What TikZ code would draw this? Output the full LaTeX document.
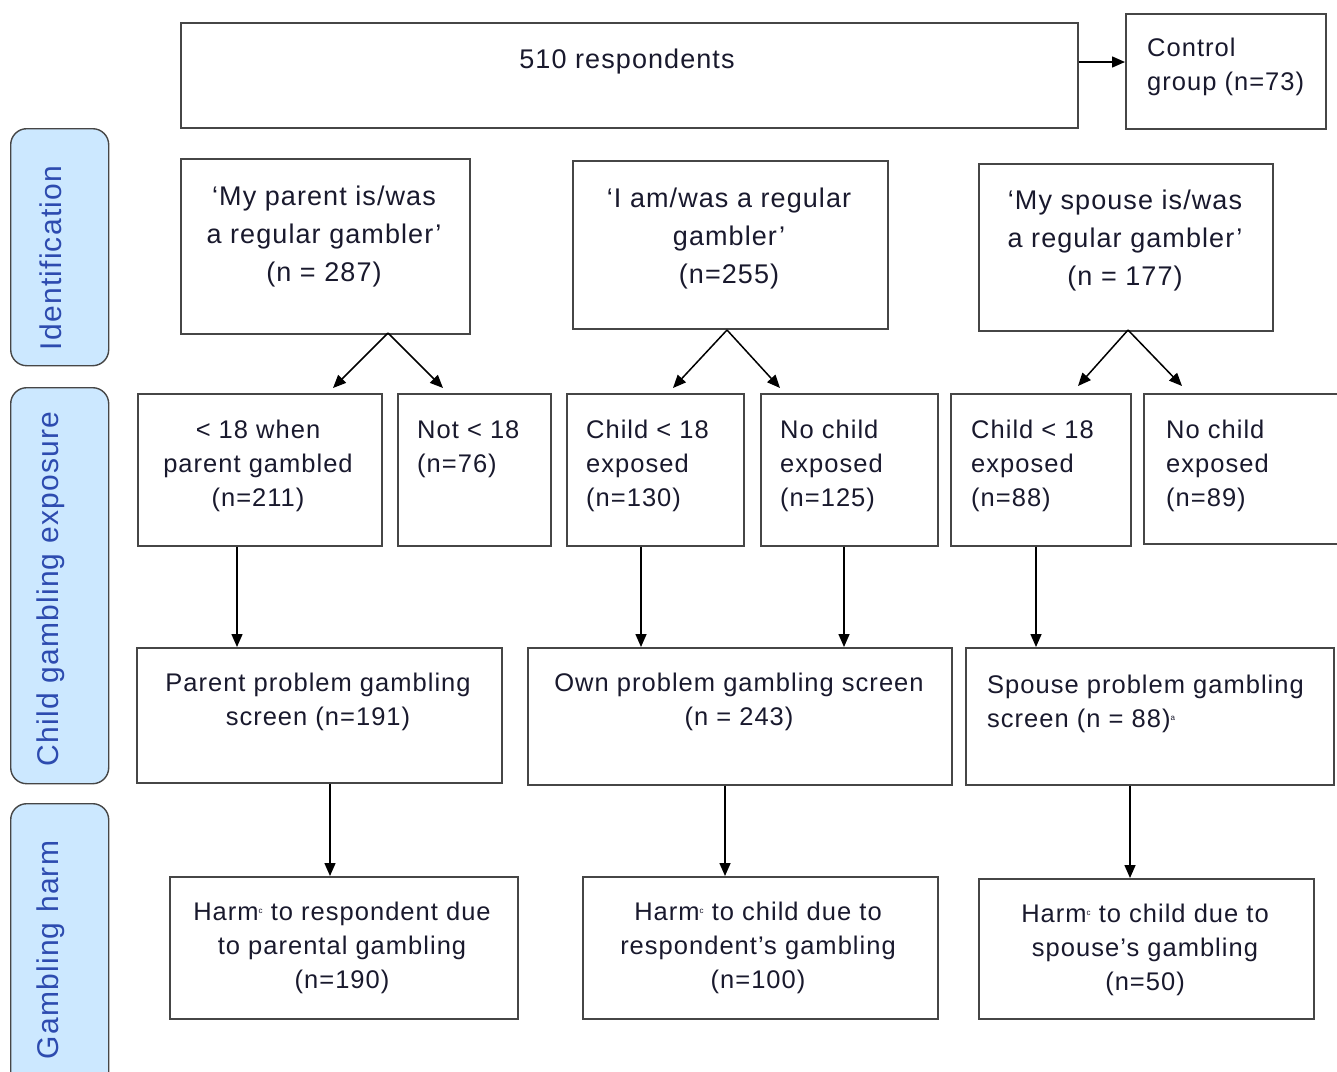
\documentclass[tikz,border=0pt]{standalone}
\usepackage{fontspec}
\setmainfont[LetterSpace=4]{Liberation Sans}
\usetikzlibrary{arrows.meta,calc}
\definecolor{boxgray}{RGB}{70,70,70}
\definecolor{sideblue}{RGB}{204,232,255}
\definecolor{sidetext}{RGB}{45,75,175}
\definecolor{txtc}{RGB}{25,25,45}
\newcommand{\supsm}[1]{\raisebox{0.55ex}{\fontsize{8}{8}\selectfont #1}}
\begin{document}
\begin{tikzpicture}[x=1pt,y=-1pt,
  box/.style={draw=boxgray,line width=1.6pt,fill=white,inner sep=0pt,anchor=north west},
  side/.style={draw=boxgray,line width=1.4pt,fill=sideblue,rounded corners=16pt,inner sep=0pt,anchor=north west},
  sidelbl/.style={text=sidetext,font=\fontsize{30}{36}\selectfont,rotate=90,inner sep=0pt},
  big/.style={text=txtc,font=\fontsize{27}{38}\selectfont,inner sep=0pt,align=center},
  mid/.style={text=txtc,font=\fontsize{25.5}{34}\selectfont,inner sep=0pt,align=center},
  midl/.style={text=txtc,font=\fontsize{25.5}{34}\selectfont,inner sep=0pt,align=left,anchor=west},
  arr/.style={draw=black,line width=1.5pt,-{Triangle[length=13pt,width=11pt]}}]
\useasboundingbox (0,0) rectangle (1337,1071);
\fill[white] (0,0) rectangle (1337,1071);
% side labels
\node[side,minimum width=98pt,minimum height=237pt] (S1) at (10,128) {};
\node[sidelbl] (S1t) at (51,258) {Identification};
\node[side,minimum width=98pt,minimum height=396pt] (S2) at (10,387) {};
\node[sidelbl] (S2t) at (51,589) {Child gambling exposure};
\node[side,minimum width=98pt,minimum height=300pt] (S3) at (10,803) {};
\node[sidelbl] (S3t) at (51,950) {Gambling harm};
% top row
\node[box,minimum width=897pt,minimum height=105pt] (T) at (180,22) {};
\node[big] (Tt) at (627,62) {510 respondents};
\node[box,minimum width=200pt,minimum height=115pt] (CG) at (1125,13) {};
\node[big,align=left,anchor=west,font=\fontsize{25.5}{34}\selectfont] (CGt) at (1147,67) {Control\\group (n=73)};
\draw[arr] (T.east |- 0,62) -- (CG.west |- 0,62);
% row 2
\node[box,minimum width=289pt,minimum height=175pt] (A) at (180,158) {};
\node[big] (At) at (324,237) {`My parent is/was\\a regular gambler'\\(n = 287)};
\node[box,minimum width=315pt,minimum height=168pt] (B) at (572,160) {};
\node[big] (Bt) at (729,239) {`I am/was a regular\\gambler'\\(n=255)};
\node[box,minimum width=294pt,minimum height=167pt] (C) at (978,163) {};
\node[big] (Ct) at (1125,241) {`My spouse is/was\\a regular gambler'\\(n = 177)};
% row 3
\node[box,minimum width=244pt,minimum height=152pt] (D) at (137,393) {};
\node[mid] (Dt) at (258,466) {< 18 when\\parent gambled\\(n=211)};
\node[box,minimum width=153pt,minimum height=152pt] (E) at (397,393) {};
\node[midl] (Et) at (417,449) {Not < 18\\(n=76)};
\node[box,minimum width=177pt,minimum height=152pt] (F) at (566,393) {};
\node[midl] (Ft) at (586,466) {Child < 18\\exposed\\(n=130)};
\node[box,minimum width=177pt,minimum height=152pt] (G) at (760,393) {};
\node[midl] (Gt) at (780,466) {No child\\exposed\\(n=125)};
\node[box,minimum width=180pt,minimum height=152pt] (H) at (950,393) {};
\node[midl] (Ht) at (971,466) {Child < 18\\exposed\\(n=88)};
\node[box,minimum width=210pt,minimum height=150pt] (I) at (1143,393) {};
\node[midl] (It) at (1166,466) {No child\\exposed\\(n=89)};
% row 2 -> row 3
\coordinate (Ao) at (388,333);
\coordinate (Bo) at (727,330);
\coordinate (Co) at (1128,330);
\draw[arr] (Ao) -- (333,388);
\draw[arr] (Ao) -- (443,388);
\draw[arr] (Bo) -- (673,388);
\draw[arr] (Bo) -- (780,388);
\draw[arr] (Co) -- (1078,386);
\draw[arr] (Co) -- (1182,386);
% row 4
\node[box,minimum width=365pt,minimum height=135pt] (J) at (136,647) {};
\node[mid] (Jt) at (318,702) {Parent problem gambling\\screen (n=191)};
\node[box,minimum width=424pt,minimum height=137pt] (K) at (527,647) {};
\node[mid] (Kt) at (739,702) {Own problem gambling screen\\(n = 243)};
\node[box,minimum width=368pt,minimum height=137pt] (L) at (965,647) {};
\node[midl] (Lt) at (987,704) {Spouse problem gambling\\screen (n = 88)\supsm{a}};
\draw[arr] (D.south -| 237,0) -- (J.north -| 237,0);
\draw[arr] (F.south -| 641,0) -- (K.north -| 641,0);
\draw[arr] (G.south -| 844,0) -- (K.north -| 844,0);
\draw[arr] (H.south -| 1036,0) -- (L.north -| 1036,0);
% row 5
\node[box,minimum width=348pt,minimum height=142pt] (M) at (169,876) {};
\node[mid] (Mt) at (342,948) {Harm\supsm{c} to respondent due\\to parental gambling\\(n=190)};
\node[box,minimum width=355pt,minimum height=142pt] (N) at (582,876) {};
\node[mid] (Nt) at (758,948) {Harm\supsm{c} to child due to\\respondent's gambling\\(n=100)};
\node[box,minimum width=335pt,minimum height=140pt] (O) at (978,878) {};
\node[mid] (Ot) at (1145,950) {Harm\supsm{c} to child due to\\spouse's gambling\\(n=50)};
\draw[arr] (J.south -| 330,0) -- (M.north -| 330,0);
\draw[arr] (K.south -| 725,0) -- (N.north -| 725,0);
\draw[arr] (L.south -| 1130,0) -- (O.north -| 1130,0);
\end{tikzpicture}
\end{document}
